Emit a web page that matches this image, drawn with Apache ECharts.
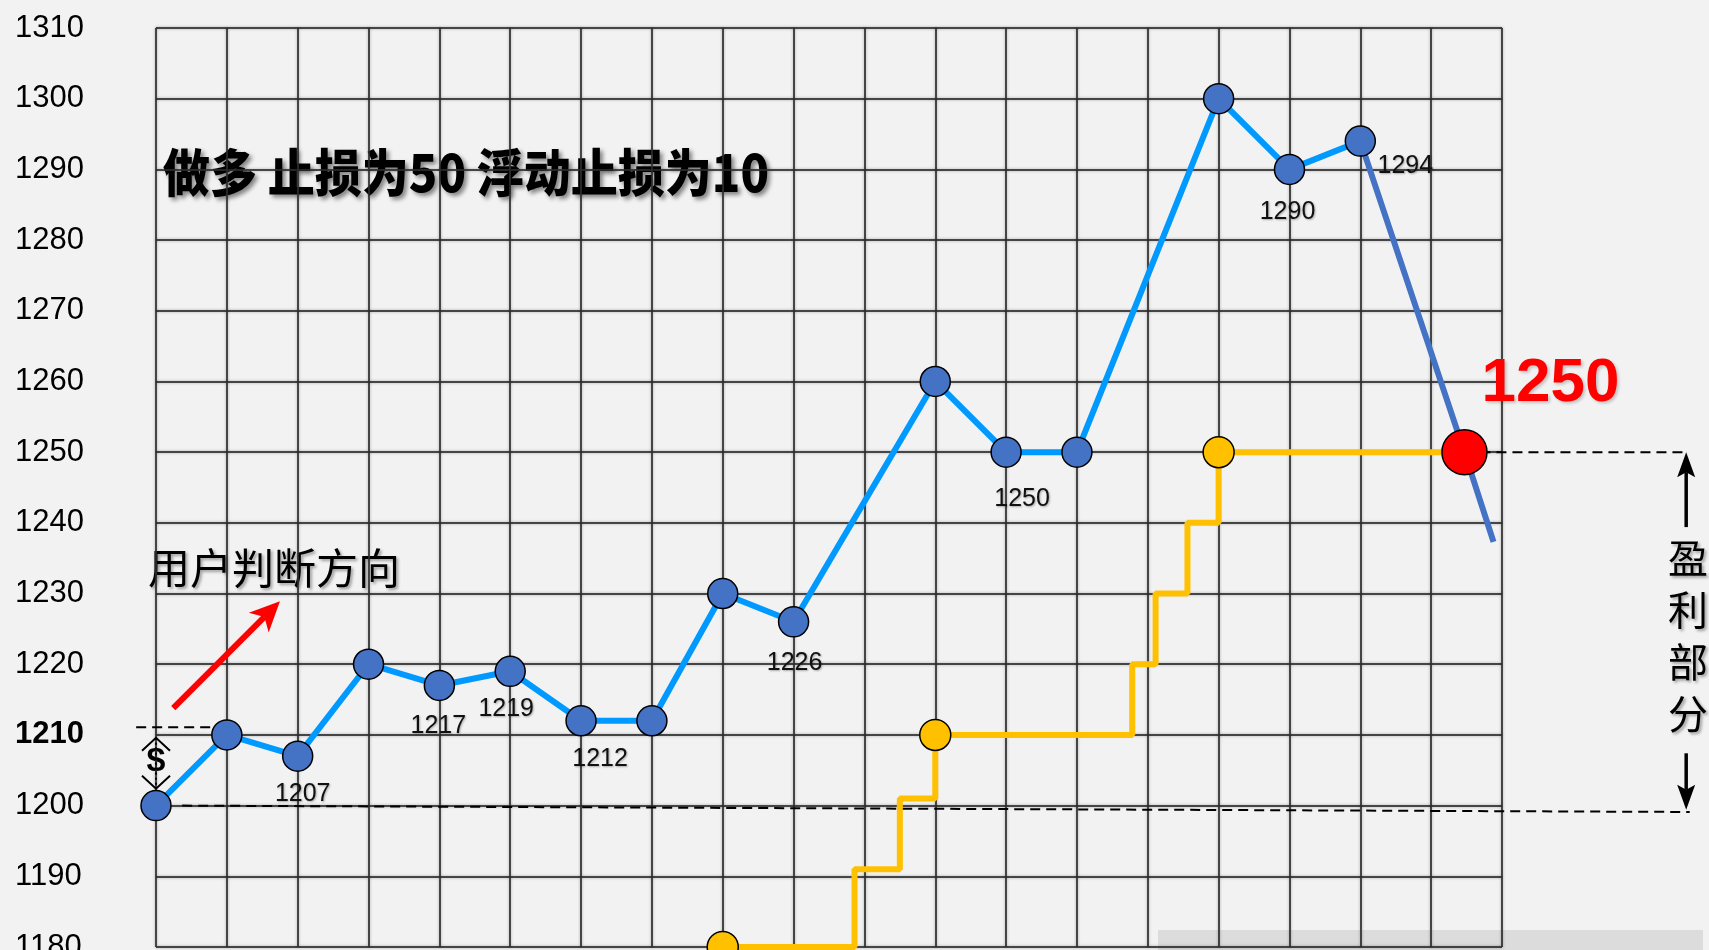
<!DOCTYPE html>
<html>
<head>
<meta charset="utf-8">
<script src="https://cdn.jsdelivr.net/npm/echarts@6/dist/echarts.min.js"></script>
<style>
  html, body { margin: 0; padding: 0; background: #f2f2f2; }
  #main { width: 1709px; height: 950px; }
</style>
</head>
<body>
<div id="main"></div>
<script>
// axis ticks
const yMin = 1180, yMax = 1310, yStep = 10, yBold = 1210;
const xMin = 0, xMax = 19, xStep = 1;

// price path (blue line), x = grid column
const priceX = [0, 1, 2, 3, 4, 5, 6, 7, 8, 9, 11, 12, 13, 15, 16, 17];
const priceY = [1200, 1210, 1207, 1220, 1217, 1219, 1212, 1212, 1230, 1226, 1260, 1250, 1250, 1300, 1290, 1294];
const labeledIdx = [2, 4, 5, 6, 9, 11, 14, 15];

// final drop after the top
const dropX = [17, 18.47, 18.88];
const dropY = [1294, 1250, 1237.3];

// trailing stop (yellow steps)
const stopX = [8, 9.86, 10.5, 11, 13.78, 14.11, 14.56, 15, 18.47];
const stopY = [1180, 1191, 1201, 1210, 1220, 1230, 1240, 1250, 1250];
const stopDotX = [8, 11, 15];

// exit point
const exitX = 18.47, exitY = 1250;

// guide segments [x1, y1, x2, y2]
const dashSegs = [
  [0.37, 1200, 21.65, 1199.1],
  [-0.28, 1211.1, 0.8, 1211.1],
  [18.47, 1250, 21.57, 1250]
];
// arrows [tailX, tailY, tipX, tipY]
const arrowSegs = [
  [0.244, 1213.8, 1.75, 1228.9],
  [21.6, 1239.4, 21.6, 1250],
  [21.6, 1207.4, 21.6, 1199.4]
];
// stake marker between entry and first step [x, topTip, x, bottomTip]
const stakeSegs = [[0, 1209.6, 0, 1202.4]];

// styling only
const labelOffsets = [[5, 38], [-1, 41], [-4, 38], [19, 38], [1, 41], [16, 47], [-2, 43], [45, 25]];
const arrowStyles = [
  { color: '#FF0000', width: 6, head: 30, half: 14, notch: 8 },
  { color: '#000', width: 3.5, head: 25, half: 9, notch: 5 },
  { color: '#000', width: 3.5, head: 25, half: 9, notch: 5 }
];
const latin = '"Liberation Sans", Arial, sans-serif';
const cjk = '"Noto Sans CJK SC", sans-serif';
const gridLine = { color: 'rgba(45,45,45,0.85)', width: 2, shadowColor: 'rgba(0,0,0,0.35)', shadowBlur: 3 };

function pairs(xs, ys) { return xs.map((x, i) => [x, ys[i]]); }

function ends(api) {
  return [api.coord([api.value(0), api.value(1)]), api.coord([api.value(2), api.value(3)])];
}

function renderDash(params, api) {
  const [a, b] = ends(api);
  return {
    type: 'line', shape: { x1: a[0], y1: a[1], x2: b[0], y2: b[1] },
    style: { stroke: '#000', lineWidth: 2, lineDash: [10, 6] }
  };
}

function renderArrow(params, api) {
  const st = arrowStyles[params.dataIndex];
  const [a, b] = ends(api);
  const len = Math.hypot(b[0] - a[0], b[1] - a[1]);
  const ux = (b[0] - a[0]) / len, uy = (b[1] - a[1]) / len;
  const nx = -uy, ny = ux;
  const bx = b[0] - ux * st.head, by = b[1] - uy * st.head;
  const kx = b[0] - ux * (st.head - st.notch), ky = b[1] - uy * (st.head - st.notch);
  return {
    type: 'group',
    children: [
      { type: 'line', shape: { x1: a[0], y1: a[1], x2: kx, y2: ky }, style: { stroke: st.color, lineWidth: st.width } },
      {
        type: 'polygon',
        shape: { points: [[b[0], b[1]], [bx + nx * st.half, by + ny * st.half], [kx, ky], [bx - nx * st.half, by - ny * st.half]] },
        style: { fill: st.color }
      }
    ]
  };
}

function renderStake(params, api) {
  const [a, b] = ends(api);
  const arm = 14, back = 13;
  return {
    type: 'group',
    children: [
      { type: 'line', shape: { x1: a[0], y1: a[1], x2: b[0], y2: b[1] }, style: { stroke: '#000', lineWidth: 2, lineDash: [2, 3] } },
      { type: 'polyline', shape: { points: [[a[0] - arm, a[1] + back], [a[0], a[1]], [a[0] + arm, a[1] + back]] }, style: { stroke: '#000', lineWidth: 2, fill: null } },
      { type: 'polyline', shape: { points: [[b[0] - arm, b[1] - back], [b[0], b[1]], [b[0] + arm, b[1] - back]] }, style: { stroke: '#000', lineWidth: 2, fill: null } }
    ]
  };
}

function guideSeries(segs, render, z) {
  return { type: 'custom', data: segs, renderItem: render, clip: false, silent: true, encode: { x: [0, 2], y: [1, 3] }, z: z };
}

const priceData = priceX.map((x, i) => {
  const item = { value: [x, priceY[i]] };
  const k = labeledIdx.indexOf(i);
  if (k >= 0) item.label = { show: true, offset: labelOffsets[k] };
  return item;
});

const stopData = stopX.map((x, i) => ({
  value: [x, stopY[i]],
  symbol: stopDotX.indexOf(x) >= 0 ? 'circle' : 'none'
}));

const chart = echarts.init(document.getElementById('main'));
chart.setOption({
  animation: false,
  backgroundColor: '#f2f2f2',
  grid: { left: 156, right: 207, top: 28, bottom: 3, outerBoundsMode: 'none' },
  xAxis: {
    type: 'value', min: xMin, max: xMax, interval: xStep,
    axisLine: { show: false }, axisTick: { show: false }, axisLabel: { show: false },
    splitLine: { show: true, lineStyle: gridLine }
  },
  yAxis: {
    type: 'value', min: yMin, max: yMax, interval: yStep,
    axisLine: { show: false }, axisTick: { show: false },
    axisLabel: {
      align: 'left', margin: 141, fontSize: 31, fontFamily: latin, color: '#000',
      formatter: v => v === yBold ? '{b|' + v + '}' : String(v),
      rich: { b: { fontSize: 31, fontFamily: latin, fontWeight: 'bold', color: '#000' } }
    },
    splitLine: { show: true, lineStyle: gridLine }
  },
  graphic: [
    { type: 'rect', shape: { x: 1158, y: 930, width: 545, height: 20 }, style: { fill: 'rgba(170,170,170,0.3)' }, silent: true },
    {
      type: 'text', x: 163, y: 172, scaleY: 1.1, silent: true,
      style: {
        text: '做多 止损为50 浮动止损为10', fontSize: 47, fontWeight: 900, fontFamily: cjk, fill: '#000',
        align: 'left', verticalAlign: 'middle',
        textShadowColor: 'rgba(0,0,0,0.45)', textShadowBlur: 4, textShadowOffsetX: 3, textShadowOffsetY: 3
      }
    },
    {
      type: 'text', x: 148, y: 568, silent: true,
      style: {
        text: '用户判断方向', fontSize: 42, fontFamily: cjk, fill: '#000',
        align: 'left', verticalAlign: 'middle',
        textShadowColor: 'rgba(0,0,0,0.35)', textShadowBlur: 3, textShadowOffsetX: 2, textShadowOffsetY: 2
      }
    },
    {
      type: 'text', x: 1688, y: 636, silent: true,
      style: {
        text: '盈\n利\n部\n分', fontSize: 40, lineHeight: 52, fontFamily: cjk, fill: '#000',
        align: 'center', verticalAlign: 'middle',
        textShadowColor: 'rgba(0,0,0,0.35)', textShadowBlur: 3, textShadowOffsetX: 2, textShadowOffsetY: 2
      }
    },
    {
      type: 'text', x: 156, y: 762, silent: true,
      style: { text: '$', fontSize: 34, fontWeight: 'bold', fontFamily: latin, fill: '#000', align: 'center', verticalAlign: 'middle' }
    }
  ],
  series: [
    guideSeries(dashSegs, renderDash, 1),
    guideSeries(stakeSegs, renderStake, 1),
    {
      name: 'stop', type: 'line', data: stopData, step: 'end', clip: false,
      symbol: 'circle', symbolSize: 31, showSymbol: true,
      lineStyle: { color: '#FFC000', width: 6 },
      itemStyle: { color: '#FFC000', borderColor: '#000', borderWidth: 1.5 },
      z: 3
    },
    {
      name: 'drop', type: 'line', data: pairs(dropX, dropY), symbol: 'none', clip: false,
      lineStyle: { color: '#4472C4', width: 6 }, z: 3
    },
    {
      name: 'price', type: 'line', data: priceData, clip: false,
      symbol: 'circle', symbolSize: 30,
      lineStyle: { color: '#0099FF', width: 6 },
      itemStyle: { color: '#4472C4', borderColor: '#000', borderWidth: 1.5 },
      label: {
        show: false, position: 'inside', fontSize: 25, fontFamily: latin, color: '#111',
        formatter: p => String(p.value[1]),
        textShadowColor: 'rgba(0,0,0,0.3)', textShadowBlur: 2, textShadowOffsetX: 1, textShadowOffsetY: 1
      },
      z: 4
    },
    guideSeries(arrowSegs, renderArrow, 4),
    {
      name: 'exit', type: 'scatter', data: [[exitX, exitY]], clip: false,
      symbolSize: 45,
      itemStyle: { color: '#FF0000', opacity: 1, borderColor: '#000', borderWidth: 1.5 },
      label: {
        show: true, position: 'inside', offset: [86, -68],
        formatter: p => String(p.value[1]),
        fontSize: 62, fontWeight: 'bold', fontFamily: latin, color: '#FF0000',
        textShadowColor: 'rgba(0,0,0,0.2)', textShadowBlur: 3, textShadowOffsetX: 2, textShadowOffsetY: 2
      },
      z: 5
    }
  ]
});
</script>
</body>
</html>
